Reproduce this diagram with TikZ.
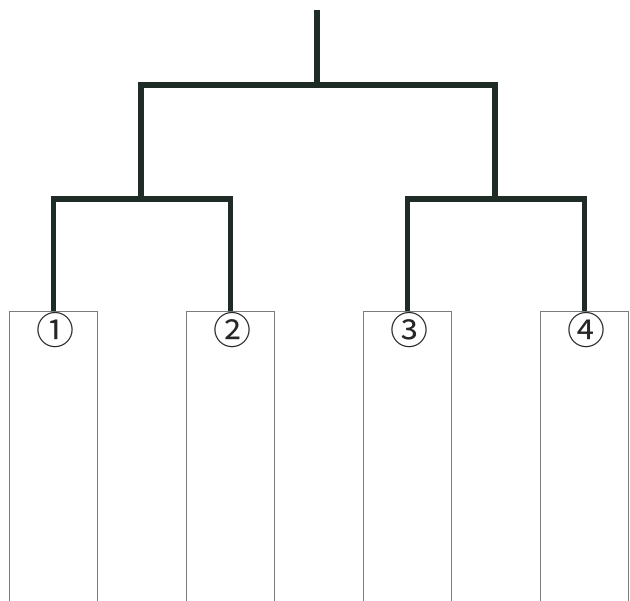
\documentclass[tikz,border=0pt]{standalone}
\usepackage{fontspec}
\newfontfamily\cjk{Noto Sans CJK JP}
\usetikzlibrary{positioning}
\definecolor{bracketgreen}{HTML}{1F2B25}
\definecolor{boxgray}{HTML}{7C7C7C}
\tikzstyle{entry}=[rectangle, draw=boxgray, line width=1pt, minimum width=88pt, minimum height=330pt, anchor=north, inner sep=0pt]
\tikzstyle{seed}=[font=\cjk\fontsize{38}{38}\selectfont, inner sep=0pt, text=black!85]
\tikzstyle{bracket}=[draw=bracketgreen, line width=5.5pt]
\begin{document}
\begin{tikzpicture}[x=1pt,y=-1pt]
	\useasboundingbox (0,0) rectangle (630,601);
	\clip (0,0) rectangle (630,601);
	% entry boxes with their seed numbers
	\foreach \n/\x/\s in {1/53.5/①,2/230.5/②,3/407.5/③,4/584.5/④}{
		\node[entry] (e\n) at (\x,311) {};
		\node[seed] (s\n) at ([xshift=1.5pt,yshift=-19pt]e\n.north) {\s};
	}
	% joints of the bracket
	\coordinate (j12) at (141,199);
	\coordinate (j34) at (495,199);
	\coordinate (final) at (317,85);
	\coordinate (top) at (317,10);
	\path[bracket] (e1.north) |- (j12) -| (e2.north);
	\path[bracket] (e3.north) |- (j34) -| (e4.north);
	\path[bracket] (j12) |- (final) -| (j34);
	\path[bracket] (final) -- (top);
\end{tikzpicture}
\end{document}
